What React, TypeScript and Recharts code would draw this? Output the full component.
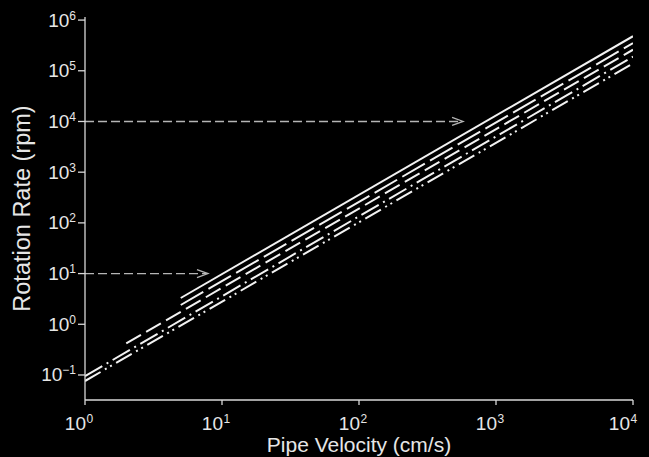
import React from "react";
import { LineChart, Line, XAxis, YAxis, ReferenceLine } from "recharts";

// axis ticks (log decades) and their exponent labels
const X_TICKS = [1, 10, 100, 1000, 10000];
const X_TICK_EXP = ["0", "1", "2", "3", "4"];
const Y_TICKS = [0.1, 1, 10, 100, 1000, 10000, 100000, 1000000];
const Y_TICK_EXP = ["\u22121", "0", "1", "2", "3", "4", "5", "6"];

// each curve: pipe velocity (cm/s) and rotation rate (rpm) at its ends
const SOLID_VELOCITY = [5, 10000];
const SOLID_RPM = [3.3, 480000];
const LONG_DASH_VELOCITY = [5, 10000];
const LONG_DASH_RPM = [2.4, 350000];
const DASH_VELOCITY = [2, 10000];
const DASH_RPM = [0.42, 260000];
const DASH_DOT_VELOCITY = [1, 10000];
const DASH_DOT_RPM = [0.095, 190000];
const DASH_DOT_DOT_VELOCITY = [1, 10000];
const DASH_DOT_DOT_RPM = [0.076, 140000];

// dashed reading arrows: rpm level and the velocity where the arrow stops
const ARROW_RPM = [10, 10000];
const ARROW_END_VELOCITY = [7.9, 575];

const FONT = '"Liberation Sans", Arial, Helvetica, sans-serif';
const FG = "#e6e6e6";

const zip = (xs: number[], ys: number[]) =>
  xs.map((x, i) => ({ x, y: ys[i] }));

const series = [
  { key: "solid", data: zip(SOLID_VELOCITY, SOLID_RPM), dash: undefined },
  { key: "long", data: zip(LONG_DASH_VELOCITY, LONG_DASH_RPM), dash: "26 6" },
  { key: "dash", data: zip(DASH_VELOCITY, DASH_RPM), dash: "17 6" },
  { key: "dd", data: zip(DASH_DOT_VELOCITY, DASH_DOT_RPM), dash: "20 5 2 5" },
  {
    key: "ddd",
    data: zip(DASH_DOT_DOT_VELOCITY, DASH_DOT_DOT_RPM),
    dash: "18 5 2 4 2 5",
  },
];

function XTick({ x, y, payload }: any) {
  const i = X_TICKS.indexOf(payload.value);
  return (
    <g fontFamily={FONT} fill={FG}>
      <text x={x + 1} y={y + 23} fontSize={19} textAnchor="end">
        10
      </text>
      <text x={x + 1.5} y={y + 16} fontSize={12} textAnchor="start">
        {X_TICK_EXP[i]}
      </text>
    </g>
  );
}

function YTick({ x, y, payload }: any) {
  const i = Y_TICKS.indexOf(payload.value);
  return (
    <text x={x} y={y + 6.5} fontFamily={FONT} fill={FG} textAnchor="end">
      <tspan fontSize={19}>10</tspan>
      <tspan fontSize={12} dy={-7}>
        {Y_TICK_EXP[i]}
      </tspan>
    </text>
  );
}

function Arrow({ x1, y1, x2, y2 }: any) {
  return (
    <g stroke="#b5b5b5" strokeWidth={1.3} fill="none">
      <line x1={x1} y1={y1} x2={x2 - 2} y2={y2} strokeDasharray="9 4" />
      <polyline points={`${x2 - 11},${y2 - 4} ${x2},${y2} ${x2 - 11},${y2 + 4}`} />
    </g>
  );
}

export default function App() {
  return (
    <div
      style={{
        position: "absolute",
        left: 0,
        top: 0,
        width: 649,
        height: 457,
        background: "#000",
      }}
    >
      <LineChart
        width={649}
        height={457}
        margin={{ top: 17, right: 16, bottom: 0, left: 25 }}
      >
        <XAxis
          type="number"
          dataKey="x"
          scale="log"
          domain={[1, 10000]}
          ticks={X_TICKS}
          allowDataOverflow
          height={57}
          tickSize={5}
          stroke="#d8d8d8"
          strokeWidth={1.3}
          tick={<XTick />}
          label={({ viewBox }: any) => (
            <text
              x={viewBox.x + viewBox.width / 2}
              y={viewBox.y + 51.5}
              textAnchor="middle"
              fontFamily={FONT}
              fontSize={21}
              fill={FG}
            >
              Pipe Velocity (cm/s)
            </text>
          )}
        />
        <YAxis
          type="number"
          dataKey="y"
          scale="log"
          domain={[0.0321, 1150000]}
          ticks={Y_TICKS}
          allowDataOverflow
          width={60}
          tickSize={7}
          stroke="#d8d8d8"
          strokeWidth={1.3}
          tick={<YTick />}
          label={({ viewBox }: any) => {
            const cx = viewBox.x + 4.5;
            const cy = viewBox.y + viewBox.height / 2;
            return (
              <text
                x={cx}
                y={cy}
                transform={`rotate(-90, ${cx}, ${cy})`}
                textAnchor="middle"
                fontFamily={FONT}
                fontSize={23.5}
                fill={FG}
              >
                Rotation Rate (rpm)
              </text>
            );
          }}
        />
        {ARROW_RPM.map((rpm, i) => (
          <ReferenceLine
            key={rpm}
            segment={[
              { x: 1, y: rpm },
              { x: ARROW_END_VELOCITY[i], y: rpm },
            ]}
            shape={(p: any) => <Arrow {...p} />}
          />
        ))}
        {series.map((s) => (
          <Line
            key={s.key}
            data={s.data}
            dataKey="y"
            type="linear"
            stroke="#f2f2f2"
            strokeWidth={2}
            strokeDasharray={s.dash}
            dot={false}
            activeDot={false}
            isAnimationActive={false}
          />
        ))}
      </LineChart>
    </div>
  );
}
